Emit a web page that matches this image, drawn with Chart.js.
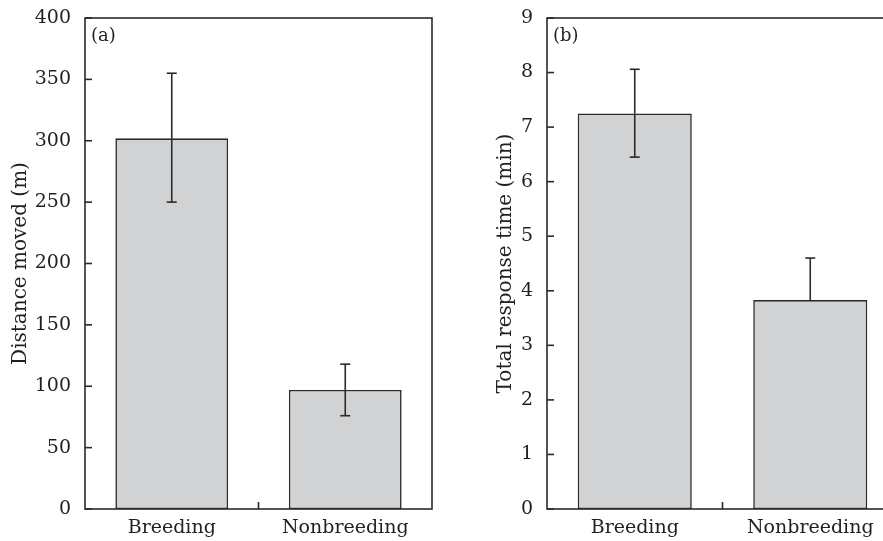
<!DOCTYPE html>
<html><head><meta charset="utf-8">
<script src="https://cdn.jsdelivr.net/npm/chart.js@4/dist/chart.umd.min.js"></script>
<style>
html,body{margin:0;padding:0;background:#fff;overflow:hidden;width:883px;height:541px;}
#ca{position:absolute;left:0;top:0;}
#cb{position:absolute;left:440px;top:0;}
</style></head><body>
<canvas id="ca" width="440" height="541"></canvas>
<canvas id="cb" width="460" height="541"></canvas>
<script>
// ---- data ----
const categories = ['Breeding', 'Nonbreeding'];
const distanceMoved = [302, 97];
const distanceErrUpper = [53, 21];
const distanceErrLower = [52, 21];
const responseTime = [7.25, 3.83];
const responseErrUpper = [0.81, 0.77];
const responseErrLower = [0.80, null];
const distanceTicks = [0, 50, 100, 150, 200, 250, 300, 350, 400];
const responseTicks = [0, 1, 2, 3, 4, 5, 6, 7, 8, 9];

// ---- style ----
const ink = '#2b2a2a';
const textInk = '#231f20';
const barFill = '#d1d2d4';
const FONT = '"DejaVu Serif", "Liberation Serif", serif';

function seg(ctx, x1, y1, x2, y2) { ctx.beginPath(); ctx.moveTo(x1, y1); ctx.lineTo(x2, y2); ctx.stroke(); }

const decor = {
  id: 'decor',
  afterDatasetsDraw(chart, args, opts) {
    const { ctx, chartArea: a, scales: { x, y } } = chart;
    const vals = chart.data.datasets[0].data;
    ctx.save();
    ctx.strokeStyle = ink;
    ctx.lineWidth = 1.6;
    ctx.lineCap = 'butt';
    vals.forEach((v, i) => {
      const cx = x.getPixelForValue(i);
      const y0 = y.getPixelForValue(v);
      const up = opts.errUp[i], lo = opts.errLo[i];
      if (up != null) {
        const y1 = y.getPixelForValue(v + up);
        seg(ctx, cx, y0, cx, y1); seg(ctx, cx - 5, y1, cx + 5, y1);
      }
      if (lo != null) {
        const y2 = y.getPixelForValue(v - lo);
        seg(ctx, cx, y0, cx, y2); seg(ctx, cx - 5, y2, cx + 5, y2);
      }
    });
    // frame
    ctx.strokeRect(a.left, a.top, a.right - a.left, a.bottom - a.top);
    // inward y ticks
    y.ticks.forEach(t => {
      const py = y.getPixelForValue(t.value);
      seg(ctx, a.left, py, a.left + 7, py);
    });
    // inward x boundary ticks
    for (let i = 0; i < vals.length - 1; i++) {
      const px = (x.getPixelForValue(i) + x.getPixelForValue(i + 1)) / 2;
      seg(ctx, px, a.bottom, px, a.bottom - 7);
    }
    // panel label
    ctx.fillStyle = textInk;
    ctx.font = '18px ' + FONT;
    ctx.textBaseline = 'top';
    ctx.textAlign = 'left';
    ctx.fillText(opts.label, a.left + 6, a.top + 9);
    ctx.restore();
  }
};

function makeChart(id, values, tickVals, title, label, errUp, errLo, yWidth, titlePad, padRight) {
  return new Chart(document.getElementById(id), {
    type: 'bar',
    data: {
      labels: categories,
      datasets: [{
        data: values,
        backgroundColor: barFill,
        borderColor: ink,
        borderWidth: 1.6,
        borderSkipped: false,
        barPercentage: 0.65,
        categoryPercentage: 1.0
      }]
    },
    options: {
      responsive: false,
      animation: false,
      devicePixelRatio: 1,
      layout: { padding: { left: 0, right: padRight, top: 18, bottom: 0 } },
      plugins: {
        legend: { display: false },
        tooltip: { enabled: false },
        decor: { errUp, errLo, label }
      },
      scales: {
        x: {
          grid: { display: false },
          border: { display: false },
          ticks: { color: textInk, font: { family: FONT, size: 19, lineHeight: 1.0 }, padding: 2, maxRotation: 0 },
          afterFit(s) { s.height = 32; }
        },
        y: {
          min: tickVals[0],
          max: tickVals[tickVals.length - 1],
          grid: { display: false },
          border: { display: false },
          afterBuildTicks(s) { s.ticks = tickVals.map(v => ({ value: v })); },
          ticks: { color: textInk, font: { family: FONT, size: 19 }, padding: 6 },
          title: {
            display: true, text: title, color: textInk,
            font: { family: FONT, size: 20 },
            padding: { top: titlePad, bottom: 0 }
          },
          afterFit(s) { s.width = yWidth; }
        }
      }
    },
    plugins: [decor]
  });
}

makeChart('ca', distanceMoved, distanceTicks, 'Distance moved (m)', '(a)',
  distanceErrUpper, distanceErrLower, 85, 9, 8);
makeChart('cb', responseTime, responseTicks, 'Total response time (min)', '(b)',
  responseErrUpper, responseErrLower, 107, 54, 2);
</script>
</body></html>
